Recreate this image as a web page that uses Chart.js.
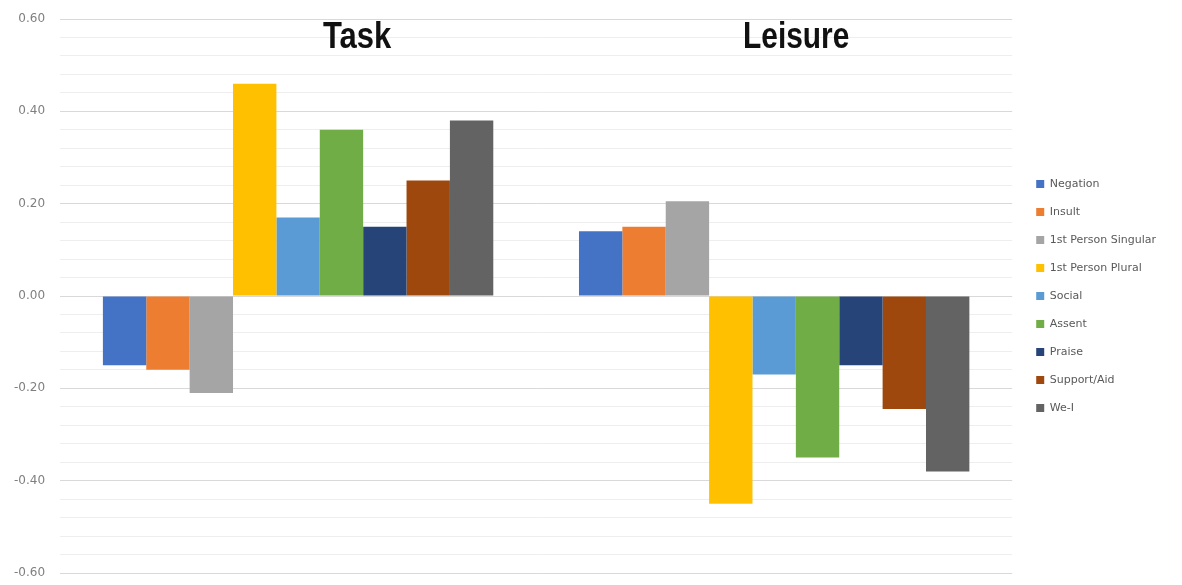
<!DOCTYPE html>
<html>
<head>
<meta charset="utf-8">
<script src="https://cdn.jsdelivr.net/npm/chart.js@4/dist/chart.umd.min.js"></script>
<style>
  html, body { margin: 0; padding: 0; background: #ffffff; }
  #wrap { width: 1182px; height: 585px; }
</style>
</head>
<body>
<div id="wrap"><canvas id="c" width="1182" height="585"></canvas></div>
<script>
// Conditions (x categories) and the coded behaviour categories (series)
const categories = ['Task', 'Leisure'];
const seriesNames = ['Negation', 'Insult', '1st Person Singular', '1st Person Plural',
  'Social', 'Assent', 'Praise', 'Support/Aid', 'We-I'];
const taskValues    = [-0.15, -0.16, -0.21,  0.46,  0.17,  0.36,  0.15,  0.25,  0.38];
const leisureValues = [ 0.14,  0.15,  0.205, -0.45, -0.17, -0.35, -0.15, -0.245, -0.38];
const yTickLabels = ['-0.60', '-0.40', '-0.20', '0.00', '0.20', '0.40', '0.60'];

const palette = ['#4472C4', '#ED7D31', '#A5A5A5', '#FFC000', '#5B9BD5',
  '#70AD47', '#264478', '#9E480E', '#636363'];

const datasets = seriesNames.map((name, i) => ({
  label: name,
  data: [taskValues[i], leisureValues[i]],
  backgroundColor: palette[i],
  borderWidth: 0,
  barPercentage: 1.0,
  categoryPercentage: 0.82
}));

const isMajor = v => Math.abs(v / 0.2 - Math.round(v / 0.2)) < 1e-6;
const fmt = v => (Math.abs(v) < 1e-9 ? 0 : v).toFixed(2);

// Large group headings above each cluster of bars
const groupTitles = {
  id: 'groupTitles',
  afterDatasetsDraw(chart) {
    const ctx = chart.ctx;
    const xs = chart.scales.x;
    const shifts = [59, 22];
    const stretch = [0.86, 0.83];
    ctx.save();
    ctx.fillStyle = '#111111';
    ctx.font = 'bold 36px "Liberation Sans", Arial, sans-serif';
    ctx.textAlign = 'center';
    ctx.textBaseline = 'alphabetic';
    categories.forEach((name, i) => {
      const cx = xs.getPixelForValue(i) + shifts[i];
      ctx.save();
      ctx.translate(cx, 48);
      ctx.scale(stretch[i], 1);
      ctx.fillText(name, 0, 0);
      ctx.restore();
    });
    ctx.restore();
  }
};

new Chart(document.getElementById('c'), {
  type: 'bar',
  data: { labels: categories, datasets },
  plugins: [groupTitles],
  options: {
    responsive: false,
    animation: false,
    layout: { padding: { top: 19, bottom: 12, left: 0, right: 16 } },
    plugins: {
      legend: {
        position: 'right',
        labels: {
          boxWidth: 8,
          boxHeight: 8,
          padding: 17,
          color: '#595959',
          font: { family: '"DejaVu Sans", sans-serif', size: 11 }
        }
      },
      tooltip: { enabled: false },
      title: { display: false }
    },
    scales: {
      x: {
        display: false
      },
      y: {
        min: -0.6,
        max: 0.6,
        border: { display: false },
        grid: {
          drawTicks: false,
          color: ctx => isMajor(ctx.tick.value) ? '#d9d9d9' : '#eeeeee',
          lineWidth: 1
        },
        ticks: {
          stepSize: 0.04,
          autoSkip: false,
          padding: 15,
          color: '#7f7f7f',
          font: { family: '"DejaVu Sans", sans-serif', size: 12 },
          callback: v => {
            const s = fmt(v);
            return isMajor(v) && yTickLabels.includes(s) ? s : '';
          }
        },
        afterFit: s => { s.paddingTop = 0; s.paddingBottom = 0; s.width -= 1; }
      },
      // narrow empty strip between the plot and the legend
      gap: {
        type: 'linear',
        position: 'right',
        grid: { display: false, drawTicks: false },
        border: { display: false },
        ticks: { display: false },
        afterFit: s => { s.width = 7; }
      }
    }
  }
});
</script>
</body>
</html>
